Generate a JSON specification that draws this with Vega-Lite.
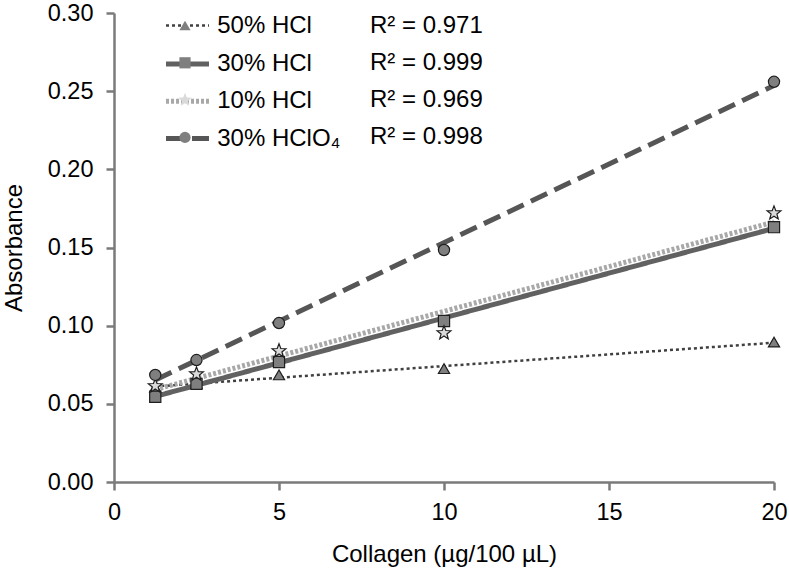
{
  "$schema": "https://vega.github.io/schema/vega-lite/v6.json",
  "width": 660,
  "height": 469,
  "autosize": {"type": "none"},
  "padding": {"left": 114, "top": 13, "right": 15, "bottom": 94},
  "background": "white",
  "config": {
    "view": {"stroke": null},
    "font": "Liberation Sans",
    "axis": {
      "domainColor": "#7a7a7a",
      "domainWidth": 2.5,
      "tickColor": "#7a7a7a",
      "tickWidth": 2.5,
      "tickSize": 8,
      "grid": false,
      "labelFlush": false,
      "labelFont": "Liberation Sans",
      "labelFontSize": 23.5,
      "labelColor": "#000000",
      "titleFont": "Liberation Sans",
      "titleFontSize": 24,
      "titleFontWeight": "normal",
      "titleColor": "#000000"
    },
    "legend": {
      "padding": 0,
      "offset": 0,
      "labelFont": "Liberation Sans",
      "labelFontSize": 24,
      "labelColor": "#000000"
    }
  },
  "data": {
    "values": [
      {"series": "50% HCl", "r2": "R² = 0.971", "x": 1.25, "y": 0.0605},
      {"series": "50% HCl", "r2": "R² = 0.971", "x": 2.5, "y": 0.063},
      {"series": "50% HCl", "r2": "R² = 0.971", "x": 5, "y": 0.0685},
      {"series": "50% HCl", "r2": "R² = 0.971", "x": 10, "y": 0.0725},
      {"series": "50% HCl", "r2": "R² = 0.971", "x": 20, "y": 0.0895},
      {"series": "30% HCl", "r2": "R² = 0.999", "x": 1.25, "y": 0.0545},
      {"series": "30% HCl", "r2": "R² = 0.999", "x": 2.5, "y": 0.0628},
      {"series": "30% HCl", "r2": "R² = 0.999", "x": 5, "y": 0.0768},
      {"series": "30% HCl", "r2": "R² = 0.999", "x": 10, "y": 0.103},
      {"series": "30% HCl", "r2": "R² = 0.999", "x": 20, "y": 0.163},
      {"series": "10% HCl", "r2": "R² = 0.969", "x": 1.25, "y": 0.0614},
      {"series": "10% HCl", "r2": "R² = 0.969", "x": 2.5, "y": 0.069},
      {"series": "10% HCl", "r2": "R² = 0.969", "x": 5, "y": 0.0838},
      {"series": "10% HCl", "r2": "R² = 0.969", "x": 10, "y": 0.0953},
      {"series": "10% HCl", "r2": "R² = 0.969", "x": 20, "y": 0.172},
      {"series": "30% HClO₄", "r2": "R² = 0.998", "x": 1.25, "y": 0.0685},
      {"series": "30% HClO₄", "r2": "R² = 0.998", "x": 2.5, "y": 0.078},
      {"series": "30% HClO₄", "r2": "R² = 0.998", "x": 5, "y": 0.1017},
      {"series": "30% HClO₄", "r2": "R² = 0.998", "x": 10, "y": 0.1484},
      {"series": "30% HClO₄", "r2": "R² = 0.998", "x": 20, "y": 0.256}
    ]
  },
  "layer": [
    {
      "transform": [
        {"filter": "datum.series === '50% HCl'"},
        {"regression": "y", "on": "x", "groupby": ["series"]}
      ],
      "mark": {"type": "line", "strokeCap": "butt", "strokeWidth": 2.5, "strokeDash": [3, 3]},
      "encoding": {
        "x": {
          "field": "x", "type": "quantitative",
          "scale": {"domain": [0, 20], "nice": false},
          "axis": {"values": [0, 5, 10, 15, 20], "labelPadding": 10, "titlePadding": 19, "title": "Collagen (µg/100 µL)"}
        },
        "y": {
          "field": "y", "type": "quantitative",
          "scale": {"domain": [0, 0.3], "nice": false, "zero": true},
          "axis": {"values": [0, 0.05, 0.1, 0.15, 0.2, 0.25, 0.3], "format": ".2f", "labelPadding": 13, "titlePadding": 21, "title": "Absorbance"}
        },
        "color": {
          "field": "series", "type": "nominal",
          "scale": {"domain": ["50% HCl"], "range": ["#404040"]},
          "legend": {
            "title": null,
            "orient": "none",
            "legendX": 61.5,
            "legendY": 0.5,
            "symbolType": "M-3,0H3",
            "symbolSize": 205,
            "symbolStrokeWidth": 2.5,
            "symbolDash": [3, 3],
            "labelOffset": 17.7,
            "rowPadding": 13.3,
            "zindex": 0
          }
        }
      }
    },
    {
      "transform": [
        {"filter": "datum.series !== '50% HCl'"},
        {"regression": "y", "on": "x", "groupby": ["series"]}
      ],
      "mark": {"type": "line", "strokeCap": "butt", "strokeWidth": 5},
      "encoding": {
        "x": {"field": "x", "type": "quantitative"},
        "y": {"field": "y", "type": "quantitative"},
        "stroke": {
          "field": "series", "type": "nominal",
          "scale": {"domain": ["30% HCl", "10% HCl", "30% HClO₄"], "range": ["#616161", "#a8a8a8", "#565656"]},
          "legend": {
            "title": null,
            "orient": "none",
            "legendX": 61.5,
            "legendY": 39,
            "symbolType": "M-3,0H3",
            "symbolSize": 205,
            "symbolStrokeWidth": 5,
            "labelOffset": 17.7,
            "rowPadding": 13.3,
            "zindex": 0
          }
        },
        "strokeDash": {
          "field": "series", "type": "nominal",
          "scale": {"domain": ["30% HCl", "10% HCl", "30% HClO₄"], "range": [[1, 0], [3, 2], [18, 8]]}
        }
      }
    },
    {
      "mark": {"type": "point", "filled": true, "opacity": 1, "stroke": "#1e1e1e", "strokeWidth": 1.2, "size": 125},
      "encoding": {
        "x": {"field": "x", "type": "quantitative"},
        "y": {"field": "y", "type": "quantitative"},
        "shape": {
          "field": "r2", "type": "nominal",
          "scale": {
            "domain": ["R² = 0.971", "R² = 0.999", "R² = 0.969", "R² = 0.998"],
            "range": ["triangle-up", "square", "M0,-1.3L0.323,-0.445L1.236,-0.402L0.523,0.17L0.764,1.052L0,0.55L-0.764,1.052L-0.523,0.17L-1.236,-0.402L-0.323,-0.445Z", "circle"]
          },
          "legend": {
            "title": null,
            "orient": "none",
            "legendX": 59,
            "legendY": 0.5,
            "symbolSize": 125,
            "symbolStrokeColor": "#1e1e1e",
            "symbolStrokeWidth": 1.2,
            "labelOffset": 173,
            "rowPadding": 13.3,
            "zindex": 1
          }
        },
        "fill": {
          "field": "r2", "type": "nominal",
          "scale": {
            "domain": ["R² = 0.971", "R² = 0.999", "R² = 0.969", "R² = 0.998"],
            "range": ["#7f7f7f", "#7f7f7f", "#dadada", "#7f7f7f"]
          }
        }
      }
    }
  ]
}
